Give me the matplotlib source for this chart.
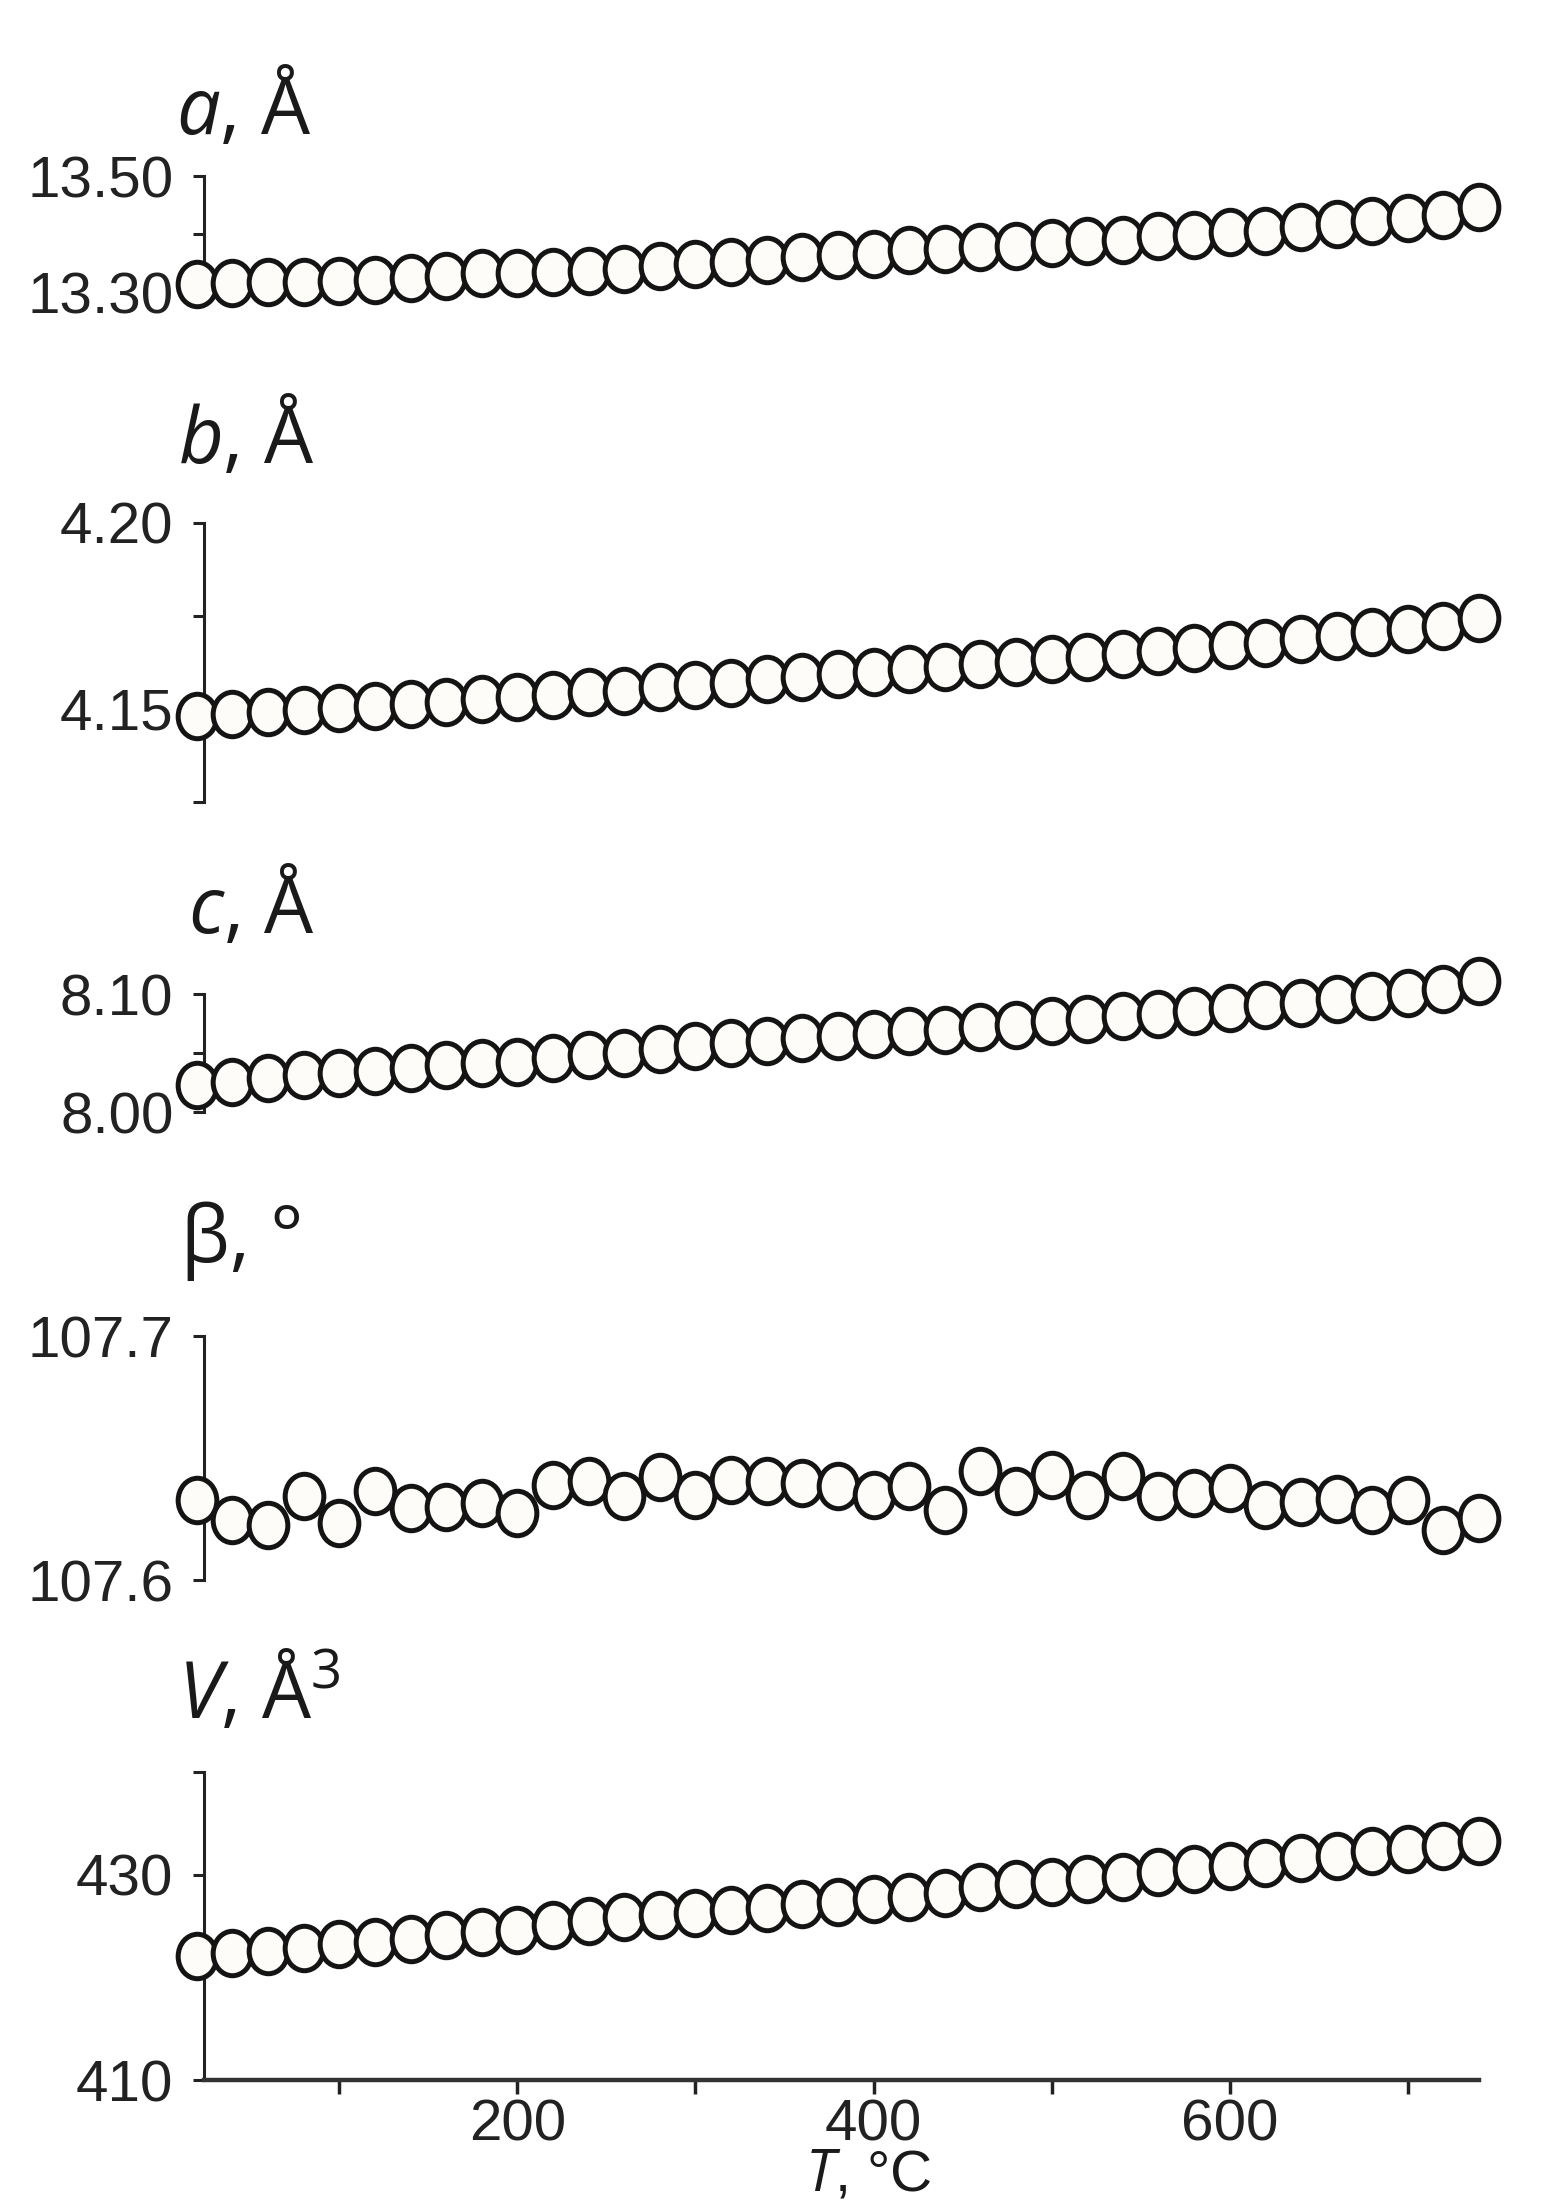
import numpy as np
import matplotlib.pyplot as plt
from matplotlib.path import Path

plt.rcParams['font.family'] = ['Liberation Sans', 'DejaVu Sans']
plt.rcParams['mathtext.fontset'] = 'custom'
plt.rcParams['mathtext.it'] = 'Open Sans:italic'
plt.rcParams['mathtext.rm'] = 'Open Sans'

# temperature, °C
T = [20, 40, 60, 80, 100, 120, 140, 160, 180, 200, 220, 240, 260, 280, 300, 320, 340, 360, 380,
     400, 420, 440, 460, 480, 500, 520, 540, 560, 580, 600, 620, 640, 660, 680, 700, 720, 740]

# unit cell parameters
a_vals = [13.313, 13.316, 13.317, 13.318, 13.319, 13.321, 13.324, 13.327, 13.332, 13.333,
          13.334, 13.337, 13.340, 13.345, 13.348, 13.351, 13.356, 13.361, 13.364, 13.366,
          13.372, 13.374, 13.377, 13.380, 13.385, 13.388, 13.390, 13.396, 13.399, 13.404,
          13.406, 13.412, 13.417, 13.422, 13.428, 13.433, 13.446]
b_vals = [4.1482, 4.1487, 4.1491, 4.1497, 4.1504, 4.1509, 4.1513, 4.1519, 4.1527, 4.1531,
          4.1537, 4.1545, 4.1549, 4.1558, 4.1564, 4.1571, 4.1580, 4.1586, 4.1593, 4.1600,
          4.1607, 4.1614, 4.1620, 4.1626, 4.1634, 4.1641, 4.1647, 4.1656, 4.1665, 4.1671,
          4.1678, 4.1687, 4.1696, 4.1706, 4.1715, 4.1724, 4.1745]
c_vals = [8.0228, 8.0256, 8.0285, 8.0313, 8.0328, 8.0348, 8.0370, 8.0399, 8.0413, 8.0427,
          8.0456, 8.0484, 8.0504, 8.0533, 8.0556, 8.0584, 8.0604, 8.0627, 8.0641, 8.0661,
          8.0684, 8.0698, 8.0718, 8.0741, 8.0769, 8.0792, 8.0812, 8.0832, 8.0855, 8.0883,
          8.0903, 8.0926, 8.0955, 8.0983, 8.1011, 8.1040, 8.1111]
beta_vals = [107.6329, 107.6247, 107.6227, 107.6343, 107.6234, 107.6363, 107.6295, 107.6299,
             107.6316, 107.6275, 107.6391, 107.6404, 107.6343, 107.6422, 107.6350, 107.6411,
             107.6404, 107.6398, 107.6384, 107.6350, 107.6384, 107.6288, 107.6445, 107.6363,
             107.6432, 107.6350, 107.6425, 107.6343, 107.6357, 107.6377, 107.6309, 107.6318,
             107.6332, 107.6288, 107.6329, 107.6206, 107.6254]
V_vals = [422.1, 422.4, 422.6, 422.9, 423.2, 423.4, 423.7, 424.1, 424.4, 424.6, 425.1, 425.5,
          425.9, 426.1, 426.3, 426.6, 426.8, 427.1, 427.3, 427.6, 427.8, 428.2, 428.8, 429.1,
          429.3, 429.6, 429.8, 430.3, 430.6, 430.8, 431.1, 431.6, 431.8, 432.3, 432.5, 432.8,
          433.3]

titles = [r'$a$, Å', r'$b$, Å', r'$c$, Å', 'β, °', r'$V$, Å$^{3}$']
series = [a_vals, b_vals, c_vals, beta_vals, V_vals]
ylims = [(13.30, 13.50), (4.125, 4.20), (8.00, 8.10), (107.6, 107.7), (410, 440)]
yticks = [[13.30, 13.40, 13.50], [4.125, 4.15, 4.175, 4.20], [8.00, 8.05, 8.10],
          [107.6, 107.7], [410, 430, 440]]
yticklabels = [['13.30', '', '13.50'], ['', '4.15', '', '4.20'], ['8.00', '', '8.10'],
               ['107.6', '107.7'], ['410', '430', '']]
xticks = [100, 200, 300, 400, 500, 600, 700]
xticklabels = ['', '200', '', '400', '', '600', '']

W, H = 1546, 2204
# panel extents in pixels: (top, bottom) and title baseline
panel_px = [(176, 292), (523, 802), (994, 1112), (1336, 1580), (1772, 2080)]
title_px = [(176, 134), (178, 463), (188, 933), (181, 1262), (178, 1718)]
x_left, x_right = 204, 1479

# slightly tall open circles, as in the original
circ = Path.unit_circle()
oval = Path(circ.vertices * [0.87, 1.0], circ.codes)

fig = plt.figure(figsize=(W / 100, H / 100), dpi=100)

for i in range(5):
    top, bot = panel_px[i]
    ax = fig.add_axes([x_left / W, 1 - bot / H, (x_right - x_left) / W, (bot - top) / H])
    ax.plot(T, series[i], ls='none', marker=oval, ms=32, mfc='#fdfcf8', mec='#141414',
            mew=3.6, clip_on=False, zorder=3)
    ax.set_xlim(24, 740)
    ax.set_ylim(*ylims[i])
    ax.set_yticks(yticks[i])
    ax.set_yticklabels(yticklabels[i])
    ax.patch.set_alpha(0)
    for s in ['top', 'right']:
        ax.spines[s].set_visible(False)
    ax.spines['left'].set_linewidth(2.2)
    ax.spines['left'].set_color('#222222')
    ax.tick_params(axis='y', direction='out', length=8, width=2.2, pad=14,
                   labelsize=42, colors='#222222')
    if i < 4:
        ax.spines['bottom'].set_visible(False)
        ax.set_xticks([])
    else:
        ax.spines['bottom'].set_linewidth(3.2)
        ax.spines['bottom'].set_color('#333333')
        ax.set_xticks(xticks)
        ax.set_xticklabels(xticklabels)
        ax.tick_params(axis='x', direction='out', length=10, width=2.5, pad=3,
                       labelsize=42, colors='#222222')
    tx, ty = title_px[i]
    fig.text(tx / W, 1 - ty / H, titles[i], fontsize=56, family='Open Sans',
             ha='left', va='baseline', color='#1a1a1a')

fig.text(805 / W, 1 - 2190 / H, r'$T$, °C', fontsize=42, ha='left', va='baseline',
         color='#1a1a1a')

fig.savefig('out.png', dpi=100, facecolor='white')
